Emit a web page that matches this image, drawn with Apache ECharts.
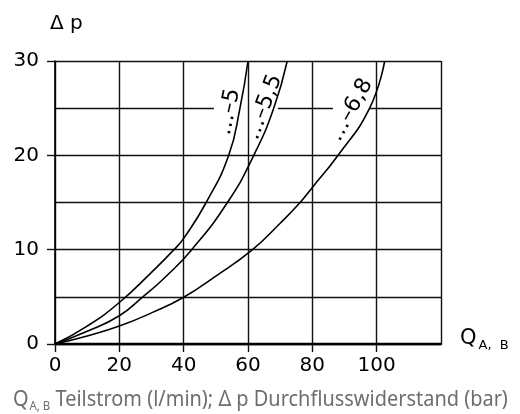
<!DOCTYPE html>
<html>
<head>
<meta charset="utf-8">
<script src="https://cdn.jsdelivr.net/npm/echarts@6/dist/echarts.min.js"></script>
<style>html,body{margin:0;padding:0;background:#fff;}#c{width:520px;height:414px;}</style>
</head>
<body>
<div id="c"></div>
<script>
// Curve "...-5"
const qA = [0, 10, 20, 30, 37, 40, 47, 54, 57.5, 60];
const pA = [0, 1.9, 4.4, 7.6, 10, 11.2, 15, 20, 25, 30];
// Curve "...-5,5"
const qB = [0, 10, 20, 27.3, 34, 42.5, 53.6, 61.8, 68.0, 72.2];
const pB = [0, 1.35, 3, 5, 7, 10, 15, 20, 25, 30];
// Curve "...-6,8"
const qC = [0, 10, 20, 30, 40, 50, 61.4, 70, 76.2, 80, 88, 97.8, 102.5];
const pC = [0, 0.85, 1.9, 3.3, 4.95, 7.2, 10, 12.8, 15, 16.6, 20, 25, 30];
const curveNames = ['…–5', '…–5,5', '…–6,8'];
const xTicks = [0, 20, 40, 60, 80, 100, 120];
const yTicks = [0, 10, 20, 30];

const zip = (xs, ys) => xs.map((x, i) => [x, ys[i]]);
const lineColor = '#111';

function curve(name, xs, ys, labelCoord, rot) {
  return {
    type: 'line', name: name, data: zip(xs, ys), smooth: 0.5,
    symbol: 'none', lineStyle: { color: '#000', width: 1.6 }, z: 5,
    markPoint: {
      silent: true, symbol: 'circle', symbolSize: 0,
      data: [{ name: name, coord: labelCoord }],
      label: { show: true, position: 'inside', formatter: p => p.name, rotate: rot,
        color: '#000', fontSize: 22, fontFamily: 'DejaVu Sans' }
    }
  };
}

const chart = echarts.init(document.getElementById('c'), null, { renderer: 'canvas' });
const series = [
  curve(curveNames[0], qA, pA, [54.0, 24.6], 78),
  curve(curveNames[1], qB, pB, [65.0, 25.1], 69),
  curve(curveNames[2], qC, pC, [92.0, 24.8], 61),
  {
    type: 'line', data: [], silent: true,
    markLine: {
      silent: true, symbol: 'none', animation: false,
      label: { show: false },
      lineStyle: { color: lineColor, width: 1.4, type: 'solid' },
      data: [
        { yAxis: 5 }, { yAxis: 15 },
        [{ coord: [0, 25] }, { coord: [49.4, 25] }],
        [{ coord: [69.3, 25] }, { coord: [86.4, 25] }],
        [{ coord: [97.9, 25] }, { coord: [120, 25] }]
      ]
    }
  }
];

chart.setOption({
  animation: false,
  backgroundColor: '#fff',
  grid: { left: 55, top: 61, right: 79, bottom: 70 },
  xAxis: {
    type: 'value', min: xTicks[0], max: xTicks[xTicks.length - 1], interval: 20,
    axisLine: { lineStyle: { color: '#000', width: 2.4 } },
    axisTick: { show: true, length: 8, lineStyle: { color: lineColor, width: 1.4 } },
    axisLabel: { showMaxLabel: false, color: '#000', fontSize: 20, fontFamily: 'DejaVu Sans', margin: 12 },
    splitLine: { show: true, lineStyle: { color: lineColor, width: 1.4 } }
  },
  yAxis: {
    type: 'value', min: yTicks[0], max: yTicks[yTicks.length - 1], interval: 10,
    axisLine: { show: true, lineStyle: { color: '#000', width: 1.6 } },
    axisTick: { show: true, length: 8, lineStyle: { color: lineColor, width: 1.4 } },
    axisLabel: { color: '#000', fontSize: 20, fontFamily: 'DejaVu Sans', margin: 16 },
    splitLine: { show: true, lineStyle: { color: lineColor, width: 1.4 } }
  },
  graphic: [
    { type: 'text', x: 50, y: 24, style: { text: 'Δ p', font: '20px "DejaVu Sans"', fill: '#000', verticalAlign: 'middle' } },
    { type: 'text', x: 460, y: 339, style: {
        text: '{q|Q}{s|A,  B}', fill: '#000', verticalAlign: 'middle',
        rich: { q: { fontSize: 21, fontFamily: 'DejaVu Sans', fill: '#000' },
                s: { fontSize: 13, fontFamily: 'DejaVu Sans', fill: '#000', verticalAlign: 'bottom', padding: [0, 0, -3, 2] } } } },
    { type: 'text', x: 13, y: 400, scaleX: 0.95, style: {
        text: '{q|Q}{s|A, B} Teilstrom (l/min); Δ p Durchflusswiderstand (bar)',
        font: '21px "Noto Sans"', fill: '#6e6e6e', verticalAlign: 'middle',
        rich: { q: { fontSize: 21, fontFamily: 'Noto Sans', fill: '#6e6e6e' },
                s: { fontSize: 12, fontFamily: 'Noto Sans', fill: '#6e6e6e', verticalAlign: 'bottom', padding: [0, 0, -2, 1] } } } }
  ],
  series: series
});
</script>
</body>
</html>
